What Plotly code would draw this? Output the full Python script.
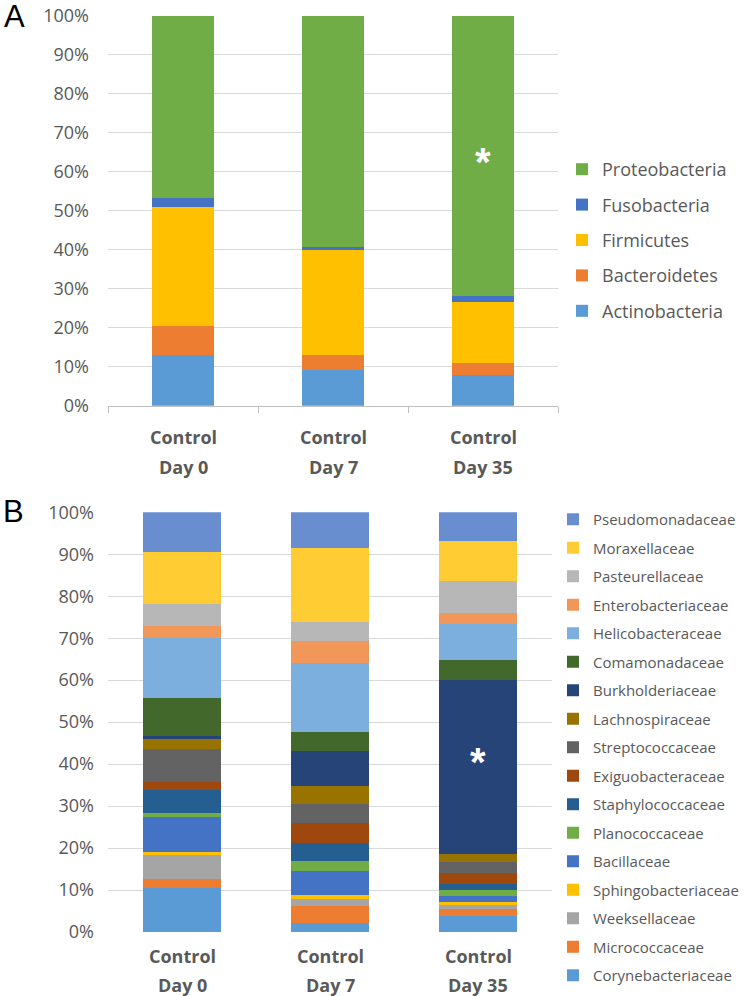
import plotly.graph_objects as go

# ---------------- data ----------------
groups_line1 = ["Control", "Control", "Control"]
groups_line2 = ["Day 0", "Day 7", "Day 35"]
categories = [a + " " + b for a, b in zip(groups_line1, groups_line2)]

# Panel A (phylum level, %), bottom to top
phyla = ["Actinobacteria", "Bacteroidetes", "Firmicutes", "Fusobacteria", "Proteobacteria"]
actinobacteria = [13.0, 9.1, 7.8]
bacteroidetes = [7.5, 3.9, 3.2]
firmicutes = [30.4, 26.9, 15.7]
fusobacteria = [2.4, 0.9, 1.3]
proteobacteria = [46.7, 59.2, 72.0]
phylum_values = [actinobacteria, bacteroidetes, firmicutes, fusobacteria, proteobacteria]
phylum_colors = ["#5B9BD5", "#ED7D31", "#FFC000", "#4472C4", "#70AD47"]

# Panel B (family level, %), bottom to top
families = ["Corynebacteriaceae", "Micrococcaceae", "Weeksellaceae", "Sphingobacteriaceae",
            "Bacillaceae", "Planococcaceae", "Staphylococcaceae", "Exiguobacteraceae",
            "Streptococcaceae", "Lachnospiraceae", "Burkholderiaceae", "Comamonadaceae",
            "Helicobacteraceae", "Enterobacteriaceae", "Pasteurellaceae", "Moraxellaceae",
            "Pseudomonadaceae"]
day0 = [10.6, 2.0, 5.8, 0.7, 8.4, 0.9, 5.5, 1.8, 7.8, 2.4, 0.9, 8.9, 14.3, 3.0, 5.1, 12.4, 9.5]
day7 = [2.2, 4.0, 1.7, 0.8, 5.8, 2.4, 4.4, 4.7, 4.4, 4.4, 8.4, 4.4, 16.4, 5.4, 4.5, 17.7, 8.4]
day35 = [3.9, 1.7, 0.8, 0.8, 1.4, 1.4, 1.4, 2.6, 2.6, 2.1, 41.4, 4.7, 8.7, 2.6, 7.5, 9.6, 6.8]
family_colors = ["#5B9BD5", "#ED7D31", "#A5A5A5", "#FFC000", "#4472C4", "#70AD47", "#255E91",
                 "#9E480E", "#636363", "#997300", "#264478", "#43682B", "#7CAFDD", "#F1975A",
                 "#B7B7B7", "#FFCD33", "#698ED0"]

yticks = list(range(0, 101, 10))
ytick_text = [f"{v}%" for v in yticks]

# ---------------- figure ----------------
W, H = 750, 996
def px_x(p):
    return p / W
def px_y(p):
    return 1 - p / H

fig = go.Figure()
TXT = "#595959"
FONT = "Open Sans"

for i, name in enumerate(phyla):
    fig.add_trace(go.Bar(
        x=categories, y=phylum_values[i], name=name,
        marker=dict(color=phylum_colors[i], line=dict(width=0)),
        width=0.415, xaxis="x", yaxis="y", legend="legend", legendgroup="a" + str(i),
        legendrank=1000 - i, hoverinfo="name+y"))

for i, name in enumerate(families):
    fig.add_trace(go.Bar(
        x=categories, y=[day0[i], day7[i], day35[i]], name=name,
        marker=dict(color=family_colors[i], line=dict(width=0)),
        width=0.525, xaxis="x2", yaxis="y2", legend="legend2", legendgroup="b" + str(i),
        legendrank=1000 - i, hoverinfo="name+y"))

def yaxis_style(standoff):
    return dict(range=[0, 100], tickvals=yticks, ticktext=ytick_text, showgrid=True,
                gridcolor="#D9D9D9", gridwidth=1, zeroline=False, showline=False,
                tickfont=dict(family=FONT, size=18, color=TXT), ticks="",
                ticklabelstandoff=standoff, automargin=False, fixedrange=True)

fig.update_layout(
    width=W, height=H, barmode="stack",
    margin=dict(l=0, r=0, t=0, b=0),
    paper_bgcolor="white", plot_bgcolor="white",
    font=dict(family=FONT, color=TXT),
    xaxis=dict(domain=[px_x(108), px_x(558)], anchor="y", showticklabels=False,
               showline=True, linecolor="#BFBFBF", linewidth=1, ticks="outside",
               tickson="boundaries", ticklen=6, tickcolor="#BFBFBF", automargin=False,
               range=[-0.5, 2.5], fixedrange=True),
    yaxis=dict(domain=[px_y(405.7), px_y(15.7)], anchor="x", **yaxis_style(18)),
    xaxis2=dict(domain=[px_x(108), px_x(552)], anchor="y2", showticklabels=False,
                showline=False, ticks="", automargin=False, range=[-0.5, 2.5],
                fixedrange=True),
    yaxis2=dict(domain=[px_y(932), px_y(512.3)], anchor="x2", **yaxis_style(13)),
    legend=dict(x=px_x(562), y=px_y(151), xanchor="left", yanchor="top",
                traceorder="grouped", tracegroupgap=9,
                font=dict(family=FONT, size=18, color=TXT), bgcolor="rgba(0,0,0,0)"),
    legend2=dict(x=px_x(553), y=px_y(503), xanchor="left", yanchor="top",
                 traceorder="grouped", tracegroupgap=6,
                 font=dict(family=FONT, size=15, color=TXT), bgcolor="rgba(0,0,0,0)"),
    showlegend=True,
)

annotations = []
# category labels (two lines) for both panels
for xa, y1, y2 in [("x", 437, 467), ("x2", 956, 985)]:
    for c, l1, l2 in zip(categories, groups_line1, groups_line2):
        for txt, yy in [(l1, y1), (l2, y2)]:
            annotations.append(dict(x=c, xref=xa, y=px_y(yy), yref="paper", text=txt,
                                    showarrow=False, xanchor="center", yanchor="middle",
                                    font=dict(family=FONT, size=18, color=TXT, weight="bold")))
# panel letters
annotations.append(dict(x=px_x(2), y=px_y(17), xref="paper", yref="paper", text="A",
                        showarrow=False, xanchor="left", yanchor="middle",
                        font=dict(family="Liberation Sans", size=31, color="black")))
annotations.append(dict(x=px_x(1), y=px_y(512), xref="paper", yref="paper", text="B",
                        showarrow=False, xanchor="left", yanchor="middle",
                        font=dict(family="Liberation Sans", size=31, color="black")))
# significance asterisks
annotations.append(dict(x=categories[2], y=62.5, xref="x", yref="y", text="*",
                        showarrow=False, font=dict(family="Liberation Sans", size=40, color="white",
                                                   weight="bold")))
annotations.append(dict(x=categories[2], y=40.5, xref="x2", yref="y2", text="*",
                        showarrow=False, font=dict(family="Liberation Sans", size=40, color="white",
                                                   weight="bold")))
fig.update_layout(annotations=annotations)

fig.write_html("out.html", config={"displayModeBar": False},
               post_script="document.body.style.margin='0';document.body.style.padding='0';")
